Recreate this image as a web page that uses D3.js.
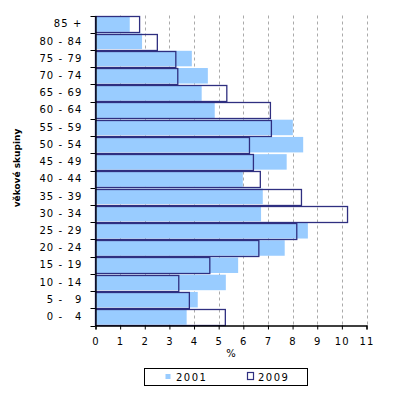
<!DOCTYPE html>
<html><head><meta charset="utf-8">
<script src="https://cdn.jsdelivr.net/npm/d3@7"></script>
<style>
body{margin:0;background:#fff;}
text{font-family:"DejaVu Sans",Verdana,sans-serif;}
</style></head>
<body><svg id="c" width="395" height="393"></svg>
<script>
const categories = ["85 +","80 - 84","75 - 79","70 - 74","65 - 69","60 - 64","55 - 59","50 - 54","45 - 49","40 - 44","35 - 39","30 - 34","25 - 29","20 - 24","15 - 19","10 - 14","5 - \u20079","0 - \u20074"];
const values2001 = [1.39,1.89,3.91,4.56,4.31,4.84,8.01,8.43,7.76,5.98,6.79,6.72,8.62,7.68,5.79,5.29,4.15,3.70];
const values2009 = [1.79,2.51,3.26,3.34,5.33,7.10,7.14,6.25,6.41,6.69,8.36,10.23,8.17,6.63,4.64,3.38,3.81,5.27];
const xTicks = [0,1,2,3,4,5,6,7,8,9,10,11];
const seriesNames = ["2001","2009"];

const svg = d3.select("#c");
const x = d3.scaleLinear().domain([0,11]).range([95.5,366.5]);
const y = d3.scaleBand().domain(categories).range([15.5,325.5]).paddingInner(0.1).paddingOuter(0.05);
const blue = "#99CCFF", navy = "#2F2F80";

// gridlines
svg.append("g").selectAll("line").data(xTicks.slice(1)).join("line")
  .attr("x1", d => Math.round(x(d))+0.5).attr("x2", d => Math.round(x(d))+0.5)
  .attr("y1", 15.5).attr("y2", 325.5)
  .attr("stroke", "#aaa").attr("stroke-dasharray", "3,3");

// 2001 bars
svg.append("g").selectAll("rect").data(values2001).join("rect")
  .attr("x", x(0)).attr("y", (d,i) => y(categories[i]))
  .attr("width", d => x(d) - x(0)).attr("height", y.bandwidth())
  .attr("fill", blue);

// 2009 bars (outlined)
svg.append("g").selectAll("rect").data(values2009).join("rect")
  .attr("x", x(0)).attr("y", (d,i) => Math.round(y(categories[i]))+0.5)
  .attr("width", d => x(d) - x(0)).attr("height", Math.round(y.bandwidth()))
  .attr("fill", "none").attr("stroke", navy).attr("stroke-width", 1.3);

// x axis
const xa = svg.append("g").attr("transform","translate(0,325.5)")
  .call(d3.axisBottom(x).tickValues(xTicks).tickSize(4).tickPadding(8).tickFormat(d3.format("d")));
xa.select(".domain").attr("stroke","#000").attr("stroke-width",1.3);
xa.selectAll(".tick line").attr("stroke","#000");
xa.selectAll("text").attr("font-size",10).attr("letter-spacing","1.2px").attr("fill","#000");

// y axis
const ya = svg.append("g").attr("transform","translate(95.5,0)")
  .call(d3.axisLeft(y).tickSize(0).tickPadding(13));
ya.select(".domain").attr("stroke","#000").attr("stroke-width",1.3);
ya.selectAll("text").attr("font-size",10).attr("letter-spacing","1.1px").attr("fill","#000").style("white-space","pre");
// category boundary ticks
const bounds = categories.map(c => y(c) - y.step()*y.paddingInner()/2).concat([325.5]);
svg.append("g").selectAll("line").data(bounds).join("line")
  .attr("x1",90.5).attr("x2",95.5).attr("y1",d=>Math.round(d)+0.5).attr("y2",d=>Math.round(d)+0.5)
  .attr("stroke","#000");

// axis titles
svg.append("text").attr("x",231).attr("y",357).attr("text-anchor","middle")
  .attr("font-size",10).text("%");
svg.append("text").attr("transform","translate(20,168) rotate(-90)").attr("text-anchor","middle")
  .attr("font-size",9).attr("font-weight","bold").text("věkové skupiny");

// legend
const lg = svg.append("g");
lg.append("rect").attr("x",144.5).attr("y",368.5).attr("width",163).attr("height",17)
  .attr("fill","#fff").attr("stroke","#000");
lg.append("rect").attr("x",165.5).attr("y",374).attr("width",5).attr("height",5).attr("fill",blue);
lg.append("text").attr("x",176).attr("y",381).attr("font-size",10).attr("letter-spacing","1.5px").text(seriesNames[0]);
lg.append("rect").attr("x",247.5).attr("y",372.5).attr("width",6).attr("height",7).attr("fill","none").attr("stroke",navy).attr("stroke-width",1.2);
lg.append("text").attr("x",258).attr("y",381).attr("font-size",10).attr("letter-spacing","1.5px").text(seriesNames[1]);
</script></body></html>
